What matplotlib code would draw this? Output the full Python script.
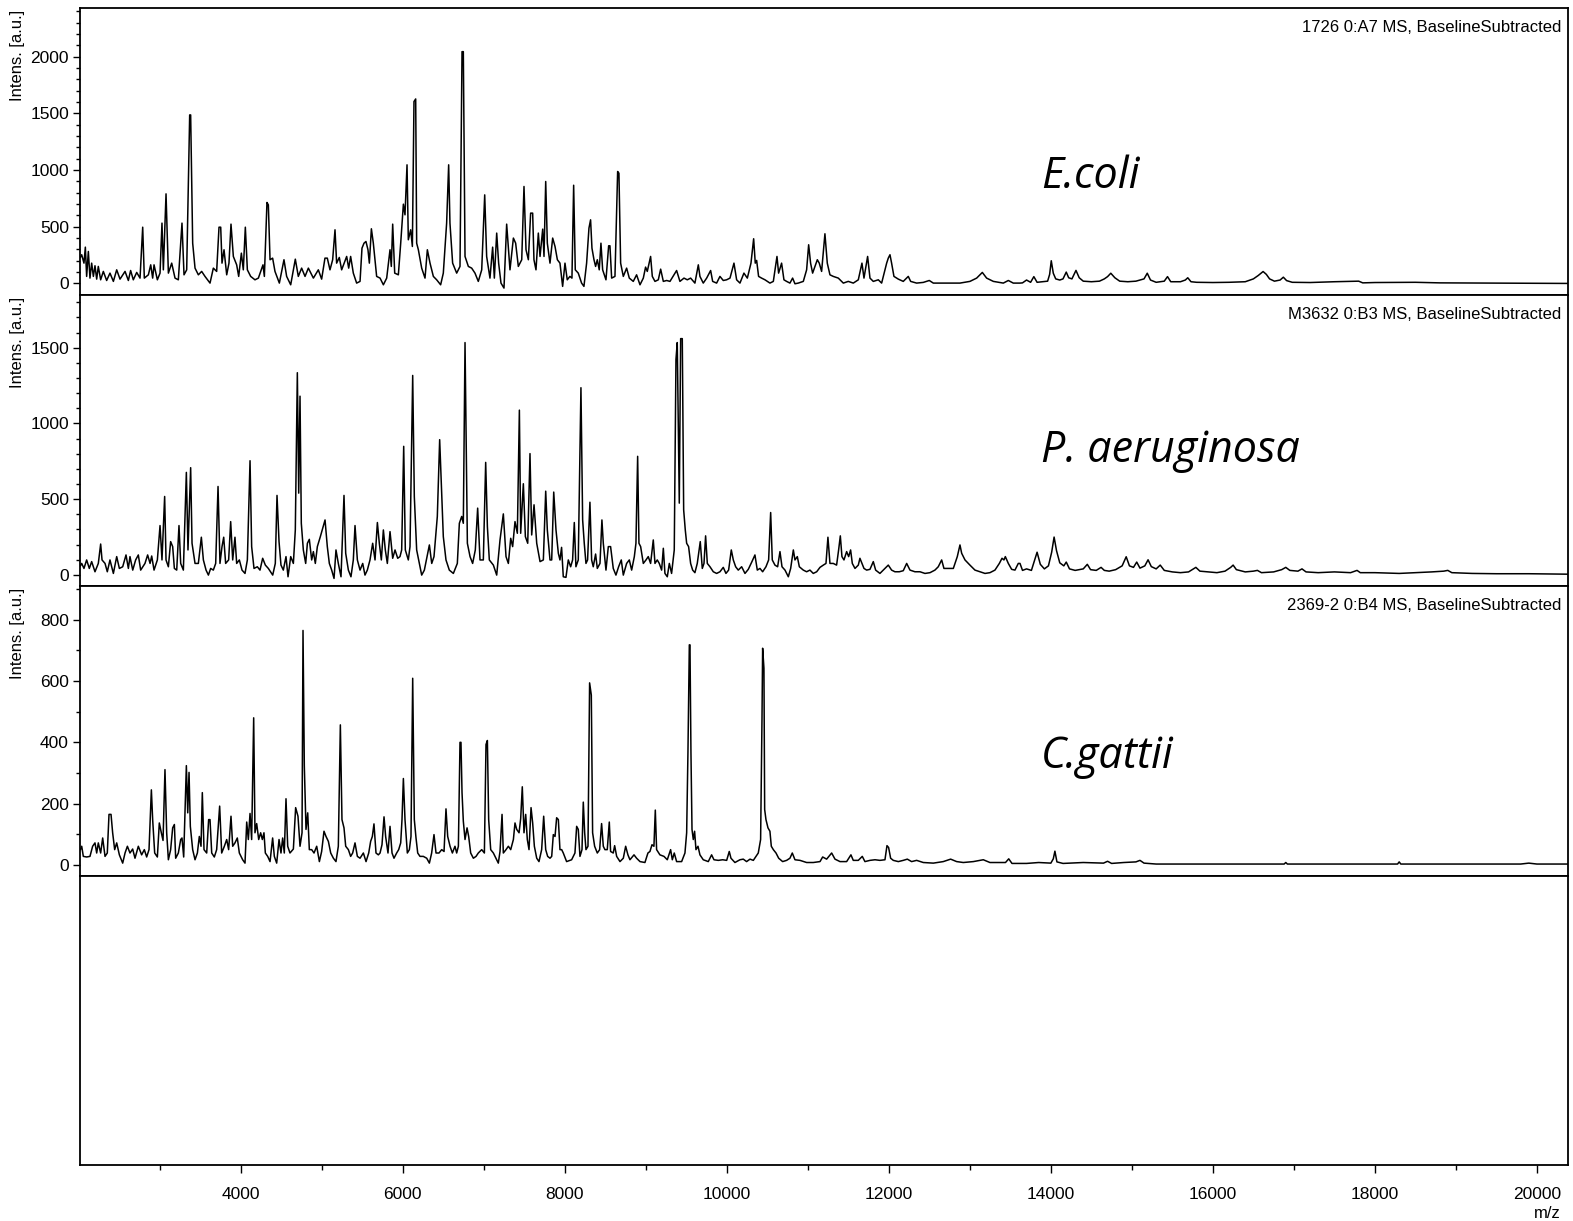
import numpy as np
import matplotlib
matplotlib.use("Agg")
import matplotlib.pyplot as plt
from matplotlib.ticker import FixedLocator, NullLocator

plt.rcParams['font.family'] = ['Liberation Sans', 'DejaVu Sans']

# ---------------- data (m/z, intensity) ----------------
ecoli_mz = [2020,2036,2064,2081,2097,2118,2138,2159,2180,2200,2221,2241,2270,2303,2344,2385,2427,2468,2509,2571,2612,2640,2673,2715,2756,2789,2809,2859,2888,2912,2929,2970,3003,3027,3044,3077,3106,3147,3188,3229,3274,3299,3332,3369,3381,3406,3435,3476,3517,3558,3620,3661,3702,3731,3752,3768,3793,3826,3854,3879,3908,3949,3974,4007,4031,4056,4081,4122,4175,4217,4274,4291,4323,4340,4361,4393,4422,4476,4533,4566,4616,4673,4710,4751,4793,4834,4896,4957,4998,5039,5068,5101,5134,5163,5183,5216,5245,5307,5332,5356,5389,5430,5472,5496,5521,5545,5570,5587,5612,5636,5677,5719,5760,5801,5842,5858,5875,5900,5945,5974,6007,6027,6052,6068,6097,6118,6138,6159,6171,6192,6233,6274,6303,6336,6377,6418,6467,6500,6541,6566,6582,6615,6665,6706,6731,6747,6768,6809,6850,6891,6932,6974,7011,7035,7076,7109,7130,7159,7183,7212,7249,7282,7323,7365,7393,7426,7468,7496,7521,7550,7578,7603,7619,7644,7673,7694,7727,7743,7764,7784,7817,7850,7879,7908,7940,
            7973,8002,8030,8063,8088,8109,8129,8166,8207,8236,8269,8298,8318,8335,8360,8380,8401,8425,8446,8467,8508,8541,8557,8578,8619,8652,8668,8689,8722,8763,8796,8845,8886,8928,8969,8997,9018,9059,9080,9113,9154,9183,9216,9257,9298,9380,9421,9471,9512,9553,9606,9648,9668,9709,9751,9800,9825,9874,9915,9956,9997,10039,10088,10121,10162,10211,10253,10298,10331,10351,10368,10392,10429,10471,10532,10574,10619,10639,10676,10705,10738,10779,10812,10841,10882,10944,10985,11010,11034,11059,11088,11117,11141,11170,11211,11240,11273,11314,11376,11438,11499,11561,11623,11668,11693,11717,11738,11767,11808,11870,11911,11973,11993,12014,12034,12063,12117,12178,12240,12269,12343,12425,12499,12549,12631,12754,12878,13001,13084,13154,13207,13290,13413,13475,13536,13619]
ecoli_int = [230,253,179,320,62,282,47,179,62,156,38,150,32,106,26,91,18,120,38,106,26,114,32,97,47,496,47,76,164,47,164,32,91,532,120,790,91,179,47,32,532,76,120,1486,1486,355,135,76,106,62,3,135,106,496,496,179,297,76,179,523,238,164,62,267,120,496,120,62,32,47,164,62,714,693,209,223,106,3,209,62,-12,214,62,135,62,135,47,120,38,223,223,120,209,473,179,229,120,238,135,238,91,3,18,311,355,370,297,179,482,355,62,47,-12,47,297,150,523,91,76,355,699,605,1046,385,473,326,1604,1627,355,297,135,47,297,179,62,32,-12,91,532,1046,532,179,91,150,2044,2044,238,150,135,91,18,120,781,238,47,320,47,444,179,3,-41,523,120,400,355,150,209,855,297,209,620,620,209,120,444,238,479,238,899,355,179,400,326,209,179,
             -26,179,32,62,47,866,120,91,3,-26,179,488,561,311,209,150,209,120,355,120,32,332,332,47,62,987,972,179,62,135,47,18,76,-12,47,144,106,238,62,18,32,126,18,26,18,114,18,47,32,47,3,164,62,3,47,114,18,3,62,26,32,47,179,32,3,91,47,179,394,179,203,62,47,32,3,18,238,91,179,32,18,3,47,-3,3,18,120,341,179,91,150,209,179,106,438,179,76,62,47,3,18,3,32,179,47,150,238,47,18,32,3,179,223,253,179,62,38,18,62,18,3,9,26,3,3,3,3,18,47,97,47,18,3,26,3,3]
ecoli_tail_mz = [13650,13700,13750,13790,13830,13900,13960,13985,14005,14030,14060,14110,14150,14190,14220,14260,14310,14350,14400,14500,14600,14660,14700,14740,14790,14850,14950,15050,15150,15190,15230,15300,15400,15440,15480,15600,15660,15690,15730,15800,16000,16200,16400,16500,16560,16620,16660,16700,16760,16830,16870,16910,16980,17200,17500,17800,17850,18000,18500,18800,19500,20384]
ecoli_tail_int = [5,30,10,60,10,15,20,80,200,90,40,30,40,100,50,40,115,50,20,15,20,40,60,90,50,20,15,20,40,90,30,10,20,60,15,15,30,50,15,10,8,10,15,40,70,105,80,40,20,30,55,25,10,8,15,20,5,8,10,5,3,0]

paer_mz = [2020,2036,2064,2097,2130,2159,2200,2241,2270,2287,2324,2352,2385,2427,2468,2501,2542,2583,2612,2632,2666,2702,2735,2764,2817,2850,2880,2900,2929,2970,3003,3027,3060,3077,3106,3134,3159,3180,3209,3237,3258,3291,3328,3348,3381,3398,3435,3476,3513,3538,3571,3600,3628,3661,3690,3719,3743,3768,3789,3813,3850,3875,3900,3928,3949,3982,4015,4052,4081,4114,4134,4163,4204,4237,4270,4303,4340,4394,4426,4447,4472,4496,4525,4558,4583,4616,4649,4673,4698,4715,4731,4747,4772,4801,4822,4846,4875,4896,4920,4945,4982,5040,5068,5093,5122,5151,5175,5204,5237,5274,5295,5328,5360,5389,5410,5439,5472,5505,5533,5562,5595,5628,5657,5686,5710,5735,5760,5784,5809,5842,5875,5904,5937,5965,5986,6011,6031,6068,6089,6122,6142,6171,6204,6233,6266,6295,6328,6357,6385,6426,6455,6476,6500,6533,6574,6624,6673,6698,6727,6747,6768,6797,6830,6862,6895,6924,6953,6994,7023,7044,7068,7118,7159,7200,7241,7274,7303,7332,7356,7385,7414,7439,7455,7488,7513,7542,7570,7591,7620,7653,7694,7735,7764,7784,7817,7838,7863,7891,7920,7940,
           7960,7981,8014,8043,8072,8096,8117,8137,8166,8199,8220,8240,8261,8281,8310,8331,8351,8380,8401,8434,8458,8475,8508,8537,8565,8598,8631,8664,8697,8722,8763,8796,8825,8858,8878,8899,8915,8936,8969,9002,9030,9059,9092,9113,9141,9166,9195,9216,9236,9265,9290,9318,9351,9372,9388,9413,9430,9450,9467,9487,9504,9528,9553,9578,9606,9635,9672,9697,9718,9738,9759,9792,9833,9874,9915,9956,9989,10022,10055,10080,10109,10141,10183,10224,10265,10310,10347,10376,10409,10442,10483,10516,10541,10561,10594,10627,10656,10681,10718,10759,10788,10821,10841,10870,10895,10944,10985,11026,11067,11109,11150,11191,11224,11248,11273,11314,11355,11380,11401,11421,11446,11479,11504,11528,11549,11582,11623,11643,11668,11693,11726,11767,11808,11837,11890,11952,11993,12034,12075,12129,12178,12220,12261,12322,12384,12446,12508,12569,12610,12652,12680,12734,12796,12845,12878,12899,12940,13001,13063,13125,13187,13248,13310,13364,13397,13421,13438,13475,13516,13557,13598,13619]
paer_int = [60,76,43,99,43,88,21,76,204,99,76,21,99,10,121,43,54,132,43,121,32,99,132,32,76,132,76,125,32,99,326,99,518,99,54,220,187,43,32,326,76,32,677,165,708,209,76,76,249,99,32,-1,43,32,76,584,76,187,249,76,99,352,99,249,76,99,32,10,99,754,187,43,54,32,110,65,43,-1,76,525,220,65,32,121,-12,121,76,297,1335,540,1180,341,165,76,209,235,99,154,76,187,253,363,187,76,32,-23,165,76,-12,525,143,32,-12,99,326,99,32,76,-1,32,99,209,99,346,209,99,297,165,76,286,110,165,110,121,165,849,165,99,187,1317,518,165,76,-1,32,110,198,76,121,386,893,595,253,99,32,10,76,341,386,341,1534,209,121,76,165,441,99,99,743,319,99,65,-1,231,403,121,76,242,187,352,275,1088,275,602,253,209,801,264,463,209,88,99,553,297,99,99,547,297,143,99,
            182,-12,-16,99,54,99,346,54,99,1236,363,209,76,99,480,99,54,138,43,76,363,209,32,187,187,43,-1,54,99,-1,76,99,32,121,209,783,209,187,76,99,121,76,231,76,99,76,32,176,10,-12,76,10,165,1423,1534,474,1560,1560,430,297,209,187,76,32,15,76,220,43,76,258,76,54,21,10,21,50,10,32,165,99,54,32,54,10,37,88,132,32,43,21,54,99,412,99,65,54,154,54,32,-12,43,165,99,121,54,32,21,32,10,21,50,65,76,249,76,76,65,165,258,121,99,154,121,165,76,43,65,110,76,43,32,37,88,32,10,43,65,32,21,21,28,76,32,21,21,10,15,32,54,99,43,43,43,121,198,143,99,65,32,21,10,15,32,76,110,99,121,76,37,32,76,76]
paer_tail_mz = [13650,13700,13760,13800,13830,13870,13920,13970,14010,14040,14070,14110,14160,14190,14230,14300,14400,14450,14490,14560,14620,14660,14720,14800,14880,14930,14970,15020,15060,15100,15160,15200,15240,15300,15350,15400,15500,15600,15700,15760,15790,15840,15950,16050,16150,16220,16250,16290,16400,16500,16550,16600,16750,16850,16900,16950,17050,17100,17150,17300,17500,17700,17780,17820,18000,18300,18500,18700,18850,18900,18950,19200,19500,19900,20384]
paer_tail_int = [30,40,30,100,150,70,40,60,150,250,160,80,60,85,40,30,40,70,35,30,50,30,25,35,60,120,60,50,85,45,60,100,55,40,65,30,20,15,20,40,50,25,20,15,25,50,65,35,20,25,30,15,20,35,50,30,25,40,20,15,20,15,30,15,15,10,15,20,25,30,15,10,8,8,5]

cgat_mz = [2020,2036,2056,2097,2138,2171,2200,2221,2241,2270,2295,2324,2352,2373,2398,2418,2443,2468,2501,2542,2571,2600,2632,2665,2694,2735,2776,2809,2838,2867,2896,2912,2937,2970,2994,3019,3040,3064,3085,3106,3134,3159,3180,3196,3229,3258,3274,3295,3328,3345,3361,3377,3406,3435,3464,3488,3509,3525,3546,3579,3603,3620,3641,3673,3702,3739,3764,3797,3826,3850,3879,3900,3928,3957,3982,4023,4052,4073,4093,4114,4134,4159,4175,4196,4221,4245,4266,4286,4303,4332,4361,4393,4414,4443,4472,4496,4517,4537,4558,4579,4607,4649,4677,4706,4731,4756,4768,4784,4805,4826,4846,4875,4904,4937,4970,4998,5027,5052,5081,5110,5143,5175,5204,5229,5249,5274,5295,5328,5356,5381,5410,5439,5472,5513,5546,5579,5603,5624,5644,5669,5698,5719,5743,5768,5788,5817,5842,5867,5891,5924,5949,5974,5990,6007,6027,6056,6081,6101,6122,6142,6163,6184,6212,6253,6295,6328,6356,6385,6410,6447,6480,6509,6533,6554,6583,6612,6644,6665,6686,6706,6718,6731,6747,6768,6793,6813,6838,6871,6904,6932,6974,7007,7027,7044,7060,7085,7118,7159,7179,7200,7225,7241,7274,7303,7332,7365,7385,7406,7435,7455,7475,7496,7517,7537,7558,7583,7603,7624,7653,7681,7714,7739,7764,7788,7817,7838,7858,7879,7899,7920,7940,
           7961,7981,8022,8084,8125,8146,8166,8187,8212,8228,8245,8261,8286,8306,8327,8343,8368,8401,8430,8454,8475,8495,8524,8549,8565,8598,8615,8640,8681,8722,8751,8779,8804,8854,8886,8928,8989,9026,9051,9076,9100,9117,9133,9174,9224,9265,9306,9327,9351,9380,9442,9483,9504,9520,9537,9545,9557,9570,9586,9602,9619,9644,9668,9709,9771,9812,9841,9895,9948,9998,10030,10051,10100,10162,10203,10244,10286,10327,10388,10417,10434,10442,10458,10467,10483,10508,10532,10549,10574,10607,10640,10689,10738,10779,10808,10841,10903,10985,11067,11150,11183,11232,11294,11335,11397,11479,11532,11561,11623,11672,11705,11767,11829,11890,11952,11977,11997,12022,12055,12117,12178,12228,12281,12343,12425,12549,12672,12763,12837,12919,13043,13166,13248,13372]
cgat_int = [50,61,28,26,28,61,72,39,72,39,88,28,39,165,165,105,50,72,33,6,39,61,39,52,22,61,33,50,26,50,245,148,39,26,137,105,80,311,105,17,50,121,132,22,39,83,88,26,324,170,302,126,50,17,39,93,61,236,50,39,148,148,39,26,50,192,39,61,83,50,159,61,72,88,39,17,6,140,83,168,83,480,105,135,83,105,83,105,39,28,11,88,28,6,83,39,88,39,216,61,39,52,187,159,61,105,765,324,116,170,50,50,39,61,11,44,110,93,77,39,22,11,61,457,148,121,61,50,28,39,72,28,22,39,11,39,77,93,134,39,33,39,66,157,93,39,126,39,22,39,50,72,148,282,148,39,50,93,609,148,88,39,28,28,22,6,39,99,39,39,50,44,183,93,61,39,61,39,61,400,400,236,143,83,121,93,39,22,28,39,50,39,393,406,148,50,39,17,6,44,165,39,50,61,50,83,137,116,105,151,255,105,165,83,50,187,137,61,22,11,50,159,50,28,22,28,99,93,154,148,50,
            50,39,11,17,39,126,116,28,50,205,105,50,61,594,554,105,61,39,50,135,61,50,50,140,44,39,63,28,11,22,61,33,17,33,22,11,8,39,44,66,61,179,50,33,28,17,50,17,39,11,11,39,105,368,718,718,368,116,83,110,50,61,33,17,11,33,17,15,17,15,44,22,8,17,19,11,19,15,39,83,477,707,642,181,148,121,110,61,50,39,22,11,15,22,39,17,15,8,8,11,26,19,39,19,11,11,33,15,15,28,11,15,17,15,17,63,57,22,15,11,15,19,11,15,8,6,11,19,11,8,11,17,8,8]
cgat_tail_mz = [13440,13480,13520,13700,13850,14000,14030,14050,14075,14150,14400,14650,14700,14750,14900,15050,15100,15150,15300,16000,16880,16900,16920,17500,18280,18300,18320,19000,19800,19900,20000,20384]
cgat_tail_int = [8,20,5,5,8,6,20,45,10,5,8,6,12,5,8,10,15,6,3,3,3,8,3,3,3,10,3,3,3,6,3,3]

panel_titles = ["1726 0:A7 MS, BaselineSubtracted",
                "M3632 0:B3 MS, BaselineSubtracted",
                "2369-2 0:B4 MS, BaselineSubtracted"]
species = ["E.coli", "P. aeruginosa", "C.gattii"]
ylims = [(-102, 2429), (-73, 1848), (-36, 910)]
ymajor = [[0, 500, 1000, 1500, 2000], [0, 500, 1000, 1500], [0, 200, 400, 600, 800]]
ymax_minor = [2400, 1800, 900]
xmajor = [4000, 6000, 8000, 10000, 12000, 14000, 16000, 18000, 20000]
xminor = [3000, 5000, 7000, 9000, 11000, 13000, 15000, 17000, 19000]
xlim = (2015, 20384)

# ---------------- figure ----------------
W, H = 1573, 1221
fig = plt.figure(figsize=(W / 100, H / 100), dpi=100)

left = 80 / W
right = 1568 / W
bounds_px = [8, 295, 586, 876, 1165]
axes = []
for i in range(4):
    top = 1 - bounds_px[i] / H
    bot = 1 - bounds_px[i + 1] / H
    ax = fig.add_axes([left, bot, right - left, top - bot])
    axes.append(ax)

spectra = [(ecoli_mz + ecoli_tail_mz, ecoli_int + ecoli_tail_int),
           (paer_mz + paer_tail_mz, paer_int + paer_tail_int),
           (cgat_mz + cgat_tail_mz, cgat_int + cgat_tail_int)]
species_y = [0.413, 0.466, 0.41]
for i, ax in enumerate(axes):
    for s in ax.spines.values():
        s.set_linewidth(1.3)
        s.set_color('black')
    ax.set_xlim(*xlim)
    if i < 3:
        mz, inten = spectra[i]
        order = np.argsort(mz, kind='stable')
        ax.plot(np.asarray(mz)[order], np.asarray(inten)[order], color='black', lw=1.1)
        ax.set_ylim(*ylims[i])
        ax.yaxis.set_major_locator(FixedLocator(ymajor[i]))
        ax.yaxis.set_minor_locator(FixedLocator(list(range(0, ymax_minor[i] + 1, 100))))
        ax.tick_params(axis='y', which='major', direction='out', length=5, width=1, labelsize=12.5, pad=3)
        ax.tick_params(axis='y', which='minor', direction='out', length=3, width=1)
        ax.xaxis.set_major_locator(NullLocator())
        ax.xaxis.set_minor_locator(NullLocator())
        ax.text(1 - 7 / 1488, 0.933, panel_titles[i], transform=ax.transAxes, ha='right', va='center',
                fontsize=12)
        ax.text(0.646, species_y[i], species[i], transform=ax.transAxes, ha='left', va='center',
                fontsize=31, style='italic', family=['Open Sans', 'DejaVu Sans'])
        fig.text(18 / W, 1 - (bounds_px[i] + 2) / H, "Intens. [a.u.]", rotation=90,
                 ha='center', va='top', fontsize=12)
    else:
        ax.set_ylim(0, 1)
        ax.yaxis.set_major_locator(NullLocator())
        ax.xaxis.set_major_locator(FixedLocator(xmajor))
        ax.xaxis.set_minor_locator(FixedLocator(xminor))
        ax.tick_params(axis='x', which='major', direction='out', length=6, width=1, labelsize=12.5, pad=10)
        ax.tick_params(axis='x', which='minor', direction='out', length=3.5, width=1)

fig.text(1561 / W, 1 - 1214 / H, "m/z", ha='right', va='center', fontsize=12)

fig.savefig("out.png", dpi=100)
